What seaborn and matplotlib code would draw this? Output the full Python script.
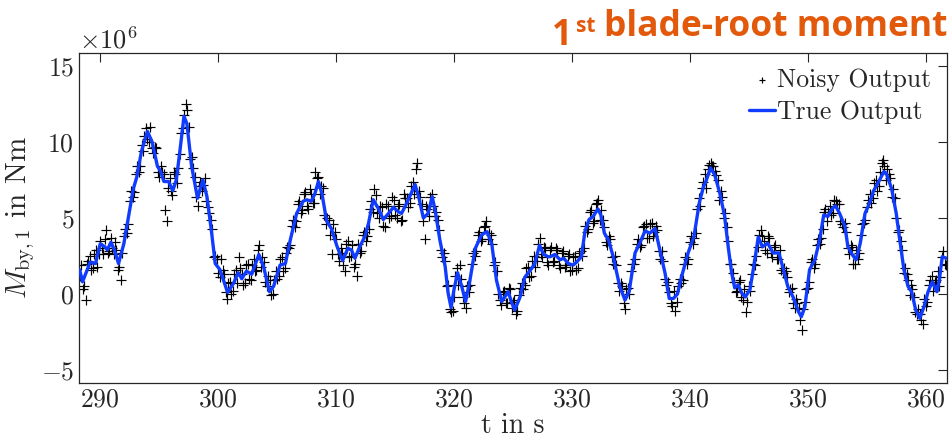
import numpy as np
import pandas as pd
import matplotlib
matplotlib.use("Agg")
import matplotlib.pyplot as plt
import seaborn as sns
from matplotlib.ticker import ScalarFormatter

# True output (x 1e6 Nm)
true_t = [288.25, 288.5, 288.8, 289.15, 289.6, 290.0, 290.4, 290.6, 290.9, 291.2,
          291.55, 292.0, 292.4, 292.8, 293.1, 293.5, 294.0, 294.4, 294.85, 295.1,
          295.4, 295.8, 296.15, 296.45, 296.8, 297.1, 297.35, 297.75, 298.25, 298.7,
          299.05, 299.45, 299.75, 300.15, 300.45, 300.8, 301.3, 301.7, 302.0, 302.4,
          302.85, 303.45, 303.85, 304.35, 304.7, 305.25, 305.7, 306.1, 306.65, 307.2,
          307.5, 307.9, 308.2, 308.5, 308.8, 309.2, 309.6, 310.05, 310.55, 311.0,
          311.3, 311.6, 312.0, 312.45, 312.75, 313.15, 313.6, 314.0, 314.45, 314.85,
          315.3, 315.55, 316.0, 316.7, 317.0, 317.4, 317.8, 318.15, 318.4, 318.8,
          319.25, 319.5, 319.75, 320.0, 320.3, 320.65, 320.98, 321.35, 321.8, 322.35,
          322.8, 323.2, 323.6, 324.05, 324.3, 324.6, 324.9, 325.15, 325.6, 326.0,
          326.6, 326.85, 327.25, 327.6, 328.0, 328.15, 328.55, 329.0, 329.3, 329.7,
          330.1, 330.4, 330.8, 331.1, 331.45, 331.8, 332.2, 332.45, 332.75, 333.1,
          333.5, 334.05, 334.5, 334.85, 335.35, 335.75, 336.2, 336.6, 337.05, 337.45,
          337.9, 338.25, 338.6, 338.95, 339.3, 339.85, 340.35, 340.8, 341.15, 341.4,
          341.75, 342.1, 342.55, 342.95, 343.25, 343.55, 343.8, 344.1, 344.4, 344.7,
          345.1, 345.5, 345.8, 346.15, 346.6, 347.05, 347.55, 347.9, 348.3, 348.75,
          349.2, 349.45, 349.75, 350.15, 350.6, 351.0, 351.35, 351.7, 352.1, 352.35,
          352.7, 353.15, 353.4, 353.8, 354.1, 354.45, 354.85, 355.25, 355.55, 355.95,
          356.45, 356.65, 357.1, 357.5, 357.8, 358.15, 358.5, 358.8, 359.15, 359.5,
          359.85, 360.2, 360.55, 360.95, 361.15, 361.4, 361.75]
true_m = [1.6, 0.8, 1.4, 2.1, 2.0, 3.3, 3.1, 2.9, 3.4, 2.9,
          2.0, 3.3, 5.1, 6.9, 7.7, 9.4, 10.7, 10.0, 8.4, 8.1,
          7.4, 7.4, 6.8, 7.5, 9.7, 11.7, 11.2, 8.4, 6.3, 7.5,
          6.4, 4.0, 2.0, 1.6, 0.9, 0.1, 0.7, 1.4, 1.0, 1.5,
          1.3, 2.6, 1.8, 0.15, 0.5, 1.9, 2.0, 3.5, 5.3, 6.1,
          6.2, 6.1, 6.6, 7.4, 6.6, 4.8, 4.3, 3.2, 2.2, 3.0,
          2.9, 2.35, 3.1, 3.8, 4.65, 6.2, 5.6, 4.9, 5.3, 5.7,
          5.4, 5.3, 6.0, 7.2, 6.4, 5.0, 5.3, 6.4, 5.5, 3.55,
          1.8, 0.05, -0.9, 0.3, 1.4, 0.5, -0.5, 0.9, 3.0, 3.9,
          4.1, 3.3, 0.9, -0.5, -0.2, 0.15, -0.6, -1.05, -0.2, 1.1,
          1.7, 2.0, 3.2, 2.6, 2.45, 2.45, 2.6, 2.25, 2.35, 2.0,
          1.9, 2.1, 2.45, 4.1, 4.9, 5.1, 5.6, 5.2, 4.0, 3.55,
          2.45, 0.5, -0.4, 0.15, 2.7, 3.35, 4.15, 4.0, 4.3, 2.9,
          1.35, -0.3, -0.3, 0.0, 1.15, 2.7, 3.8, 6.0, 7.05, 7.5,
          8.3, 7.85, 6.6, 5.1, 3.1, 1.35, 0.4, 0.6, 0.05, -0.2,
          0.3, 2.2, 3.75, 3.1, 3.35, 2.7, 2.7, 1.7, 0.5, -0.2,
          -1.15, -1.5, -0.85, 1.6, 2.25, 3.55, 5.2, 5.1, 5.65, 5.8,
          5.3, 4.45, 3.1, 2.55, 2.25, 3.35, 5.3, 6.0, 6.75, 7.3,
          8.05, 7.95, 6.95, 5.3, 3.55, 1.6, 0.5, 0.15, -1.05, -1.6,
          -0.85, 0.15, 0.8, 0.15, 0.9, 2.45, 2.35]

# Noisy output (x 1e6 Nm): two interleaved 0.25 s sample sets
noisy_a_t0 = 288.25
noisy_a = [1.2, 0.3, -0.4,
           2.2, 1.6, 2.6, 1.8,
           3.5, 2.6, 4.2, 2.8,
           3.0, 3.4, 1.6, 0.9,
           3.8, 4.0, 6.1, 6.4,
           7.9, 8.0, 9.8, 10.4,
           10.2, 11.0, 9.3, 9.6,
           7.7, 8.0, 5.5, 7.0,
           6.8, 8.0, 7.3, 9.2,
           10.9, 12.5, 11.0, 9.0,
           7.7, 5.8, 7.4, 7.2,
           6.1, 5.3, 4.3, 2.5,
           1.4, 2.3, 1.3, -0.3,
           0.8, 0.2, 1.6, 2.4,
           1.3, 0.7, 2.0, 0.9,
           2.3, 1.6, 3.2, 2.4,
           0.8, 1.2, -0.1, 0.9,
           1.0, 2.3, 1.5, 2.7,
           3.0, 4.5, 4.4, 5.9,
           5.3, 6.6, 5.8, 6.9,
           6.0, 8.0, 7.7, 7.1,
           5.2, 5.0, 3.9, 4.6,
           3.6, 2.2, 2.7, 1.5,
           3.5, 2.5, 1.8, 1.2,
           2.7, 3.9, 3.5, 4.3,
           6.1, 6.9, 5.3, 5.8,
           4.5, 5.9, 5.0, 6.4,
           5.2, 5.8, 4.8, 6.6,
           6.3, 6.0, 7.4, 8.2,
           6.8, 5.9, 3.6, 5.6,
           6.4, 5.8, 5.4, 4.2,
           2.4, 2.2, 0.6, -1.2,
           -0.2, 1.7, 1.9, -0.2,
           -0.9, 0.1, 2.0, 2.5,
           3.9, 3.5, 4.4, 4.8,
           4.0, 3.3, 2.1, 0.0,
           -0.7, 0.2, -0.6, 0.3,
           -0.5, -1.3, -0.1, 0.7,
           0.6, 1.8, 1.2, 2.5,
           2.2, 3.7, 2.4, 3.0,
           1.9, 3.1, 2.2, 2.9,
           1.7, 2.8, 1.9, 2.6,
           1.6, 2.5, 1.7, 2.8,
           3.0, 4.1, 5.4, 4.7,
           5.9, 6.2, 5.5, 4.4,
           3.2, 3.6, 2.0, 1.9,
           0.2, 0.5, -1.0, 0.4,
           1.5, 2.0, 3.3, 3.1,
           4.4, 4.6, 3.7, 4.7,
           4.1, 4.2, 2.3, 2.2,
           0.6, 0.1, -0.8, -1.1,
           0.5, 0.7, 2.0, 2.0,
           3.4, 3.3, 4.0, 6.3,
           7.0, 7.9, 8.2, 8.6,
           8.4, 7.8, 6.2, 6.4,
           5.3, 3.5, 2.0, 0.8,
           0.2, 0.9, -0.4, -1.2,
           0.5, 1.3, 1.9, 3.1,
           4.2, 3.5, 2.7, 3.7,
           2.4, 3.2, 2.3, 1.6,
           1.7, 1.1, 0.3, -0.6,
           -0.3, -0.9, -2.4, -0.5,
           0.4, 2.1, 1.7, 3.2,
           3.3, 4.3, 5.6, 5.4,
           5.2, 6.2, 5.9, 4.8,
           4.4, 4.1, 2.6, 3.1,
           2.0, 2.3, 3.9, 4.7,
           5.7, 6.6, 6.3, 7.5,
           7.1, 8.6, 8.4, 8.2,
           7.6, 6.9, 5.0, 4.2,
           2.9, 1.7, 0.9, 0.6,
           -0.2, -1.3, -1.3, -2.0,
           -0.8, 0.6, 1.2, 0.8,
           1.5, 1.1, 2.8, 1.9]
noisy_b_t0 = 288.375
noisy_b = [1.9, 0.5, 2.0,
           2.5, 1.7, 2.9, 2.6,
           3.0, 3.6, 2.7, 3.7,
           2.6, 2.9, 1.8, 2.7,
           4.3, 4.6, 6.8, 6.7,
           8.4, 8.4, 9.4, 10.9,
           10.0, 9.6, 9.7, 8.0,
           8.4, 7.9, 4.8, 7.6,
           6.5, 7.9, 8.3, 10.6,
           11.8, 12.1, 8.9, 8.3,
           6.4, 7.1, 6.8, 7.6,
           5.7, 4.9, 2.4, 2.3,
           1.1, 1.6, 0.1, 0.7,
           0.0, 1.3, 0.7, 1.7,
           0.6, 1.9, 1.0, 1.9,
           1.5, 2.9, 1.8, 2.1,
           0.5, 0.9, 0.0, 1.5,
           1.2, 2.4, 1.7, 3.1,
           3.2, 4.9, 4.8, 6.1,
           5.5, 6.7, 5.6, 6.6,
           6.0, 7.6, 6.6, 7.0,
           4.6, 4.9, 2.6, 4.1,
           2.6, 3.0, 1.9, 3.3,
           2.4, 3.2, 2.0, 3.3,
           2.8, 4.1, 3.8, 5.6,
           5.4, 6.5, 5.0, 5.7,
           4.4, 5.8, 5.1, 6.2,
           5.0, 5.9, 4.9, 6.3,
           5.7, 7.1, 6.6, 8.6,
           6.4, 4.8, 5.8, 5.1,
           6.6, 5.1, 4.9, 2.9,
           2.7, 0.5, -1.0, -1.1,
           1.2, 0.6, 1.0, -0.6,
           0.5, 0.6, 2.7, 2.8,
           4.1, 3.6, 4.5, 3.6,
           3.9, 1.9, 1.5, -0.4,
           0.1, -0.6, 0.4, -0.9,
           -0.4, -1.1, 0.4, 0.3,
           1.7, 1.1, 2.2, 1.8,
           3.3, 2.6, 3.1, 2.1,
           2.9, 2.1, 3.0, 1.9,
           2.7, 1.8, 2.5, 1.5,
           2.4, 1.6, 2.7, 2.5,
           4.5, 4.3, 5.5, 4.8,
           6.0, 4.9, 4.9, 3.4,
           3.8, 2.4, 2.5, 0.7,
           0.7, -0.6, 0.3, 0.0,
           2.0, 2.3, 3.6, 3.2,
           4.5, 3.7, 4.6, 3.8,
           4.5, 2.8, 2.8, 1.0,
           0.8, -0.6, 0.2, -0.5,
           1.0, 0.9, 2.4, 2.3,
           3.8, 3.7, 5.6, 5.8,
           7.4, 7.0, 8.5, 8.4,
           8.1, 7.5, 6.8, 5.0,
           4.4, 2.0, 1.4, 0.1,
           0.8, -0.2, 0.3, -0.5,
           0.2, 2.0, 2.5, 3.9,
           3.8, 2.9, 3.8, 2.7,
           3.1, 2.3, 2.9, 1.4,
           1.5, 0.1, 0.4, -0.9,
           -0.6, -1.7, -1.0, 0.3,
           0.8, 2.3, 2.0, 3.6,
           3.7, 5.4, 4.8, 5.8,
           5.3, 6.1, 5.9, 4.6,
           4.7, 3.0, 3.2, 2.0,
           2.9, 2.7, 4.6, 4.9,
           6.2, 6.0, 7.3, 6.8,
           8.0, 8.8, 7.5, 7.9,
           6.4, 6.3, 4.1, 3.5,
           1.4, 1.3, -0.1, 0.3,
           -1.2, -1.0, -1.7, -0.3,
           -0.5, 0.9, 0.2, 0.9,
           0.5, 2.4, 2.0]
sample_dt = 0.25
noisy_t = np.concatenate([noisy_a_t0 + sample_dt * np.arange(len(noisy_a)),
                          noisy_b_t0 + sample_dt * np.arange(len(noisy_b))])
noisy_m = np.array(noisy_a + noisy_b)

df_true = pd.DataFrame({"t": true_t, "m": np.array(true_m) * 1e6})
df_noisy = pd.DataFrame({"t": noisy_t, "m": noisy_m * 1e6})

sns.set_style("white")
plt.rcParams["font.family"] = "serif"
plt.rcParams["font.serif"] = ["cmr10", "DejaVu Serif"]
plt.rcParams["mathtext.fontset"] = "cm"
plt.rcParams["axes.unicode_minus"] = False
plt.rcParams["axes.formatter.use_mathtext"] = True

fig = plt.figure(figsize=(9.52, 4.45), dpi=100)
ax = fig.add_axes([0.083, 0.1393, 0.9117, 0.7417])

sns.scatterplot(data=df_noisy, x="t", y="m", marker="+", s=60, color="black",
                linewidth=0.85, ax=ax, label="Noisy Output", zorder=2)
sns.lineplot(data=df_true, x="t", y="m", color="#0F3CFF", linewidth=2.4,
             ax=ax, label="True Output", zorder=3)

ax.set_xlim(288.2, 361.8)
ax.set_ylim(-5.86e6, 15.86e6)
ax.set_xticks([290, 300, 310, 320, 330, 340, 350, 360])
ax.set_yticks([-5e6, 0, 5e6, 10e6, 15e6])
fmt = ScalarFormatter(useMathText=True)
fmt.set_powerlimits((6, 6))
ax.yaxis.set_major_formatter(fmt)
ax.yaxis.get_offset_text().set_fontsize(19)
ax.tick_params(direction="in", length=6.5, width=0.8, labelsize=18.5,
               top=True, right=True, colors="#262626", labelcolor="#262626")
for sp in ax.spines.values():
    sp.set_color("#262626")
    sp.set_linewidth(0.9)

ax.set_xlabel("t in s", fontsize=20, labelpad=1, color="#262626")
ax.set_ylabel(r"$M_{\mathrm{by,1}}$ in Nm", fontsize=21, labelpad=3, color="#262626")

leg = ax.legend(loc="upper right", frameon=False, fontsize=18.5, handlelength=1.0,
                handletextpad=0.1, borderaxespad=0.2, labelspacing=0.3,
                markerscale=0.55)

# headline in the top right corner
orange = "#E2590B"
t3 = fig.text(0.995, 0.919, "blade-root moment", ha="right", va="baseline",
              fontsize=25.5, fontweight="bold", color=orange, family="Open Sans")
t2 = ax.annotate("st", xy=(0, 0), xycoords=t3, xytext=(-6, 9.5), textcoords="offset points",
                 ha="right", va="baseline", fontsize=15, fontweight="bold",
                 color=orange, family="Open Sans", annotation_clip=False)
t1 = ax.annotate("1", xy=(0, 0), xycoords=t3, xytext=(-6 - 17, 0), textcoords="offset points",
                 ha="right", va="baseline", fontsize=25.5, fontweight="bold",
                 color=orange, family="Open Sans", annotation_clip=False)

fig.savefig("out.png", dpi=100)
